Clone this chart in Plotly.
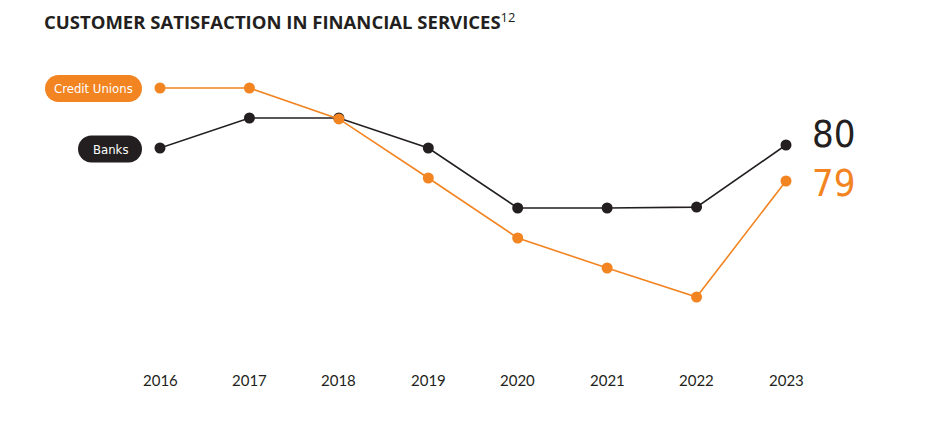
import plotly.graph_objects as go
import numpy as np

years = [2016, 2017, 2018, 2019, 2020, 2021, 2022, 2023]
banks = [79.9, 80.9, 80.9, 79.9, 77.9, 77.9, 77.93, 80.0]
credit_unions = [81.9, 81.9, 80.87, 78.9, 76.9, 75.9, 74.93, 78.8]
end_labels = {"Banks": "80", "Credit Unions": "79"}

ORANGE = "#F28421"
DARK = "#231F20"

OFF = 8  # page offset of the figure in the browser
W, H = 925 - OFF, 434 - OFF
ML = 160 - OFF
MR = W - (786 - OFF)
MT = 70 - OFF
MB = H - (340 - OFF)
PW, PH = W - ML - MR, H - MT - MB


def px2paper(px, py):
    return ((px - OFF) - ML) / PW, (H - MB - (py - OFF)) / PH


def pill(x0, x1, yc, h):
    r = h / 2
    pts = []
    for a in np.linspace(-np.pi / 2, np.pi / 2, 16):
        pts.append((x1 - r + r * np.cos(a), yc + r * np.sin(a)))
    for a in np.linspace(np.pi / 2, 3 * np.pi / 2, 16):
        pts.append((x0 + r + r * np.cos(a), yc + r * np.sin(a)))
    p = [px2paper(*q) for q in pts]
    return "M " + " L ".join(f"{a:.5f},{b:.5f}" for a, b in p) + " Z"


fig = go.Figure()
fig.add_trace(go.Scatter(x=years, y=banks, mode="lines+markers", name="Banks",
                         line=dict(color=DARK, width=1.6),
                         marker=dict(color=DARK, size=11), cliponaxis=False))
fig.add_trace(go.Scatter(x=years, y=credit_unions, mode="lines+markers", name="Credit Unions",
                         line=dict(color=ORANGE, width=1.6),
                         marker=dict(color=ORANGE, size=11), cliponaxis=False))

shapes = [
    dict(type="path", xref="paper", yref="paper", path=pill(45, 142, 88.5, 27),
         fillcolor=ORANGE, line=dict(width=0), layer="below"),
    dict(type="path", xref="paper", yref="paper", path=pill(78, 142, 149, 27),
         fillcolor=DARK, line=dict(width=0), layer="below"),
]

cond = "DejaVu Sans Condensed, Liberation Sans Narrow, Noto Sans, sans-serif"
ann = []
cx, cy = px2paper(93.5, 88.5)
ann.append(dict(x=cx, y=cy, xref="paper", yref="paper", text="Credit Unions", showarrow=False,
                xanchor="center", yanchor="middle",
                font=dict(family=cond, size=13, color="white", weight=500)))
cx, cy = px2paper(110, 149)
ann.append(dict(x=cx, y=cy, xref="paper", yref="paper", text="Banks", showarrow=False,
                xanchor="center", yanchor="middle",
                font=dict(family=cond, size=13, color="white", weight=500)))
ann.append(dict(x=years[-1], y=banks[-1], xref="x", yref="y", text=end_labels["Banks"],
                showarrow=False, xanchor="left", yanchor="middle", xshift=24, yshift=11,
                font=dict(family=cond, size=38, color=DARK, weight=500)))
ann.append(dict(x=years[-1], y=credit_unions[-1], xref="x", yref="y", text=end_labels["Credit Unions"],
                showarrow=False, xanchor="left", yanchor="middle", xshift=24, yshift=-2,
                font=dict(family=cond, size=38, color=ORANGE, weight=500)))
for yr in years:
    ann.append(dict(x=yr, y=0, xref="x", yref="paper", text=str(yr), showarrow=False,
                    xanchor="center", yanchor="middle", yshift=-40,
                    font=dict(family="Lato, sans-serif", size=15, color=DARK)))

fig.update_layout(
    width=W, height=H,
    margin=dict(l=ML, r=MR, t=MT, b=MB),
    paper_bgcolor="white", plot_bgcolor="white",
    showlegend=False,
    title=dict(text="<b>CUSTOMER SATISFACTION IN FINANCIAL SERVICES</b><sup>12</sup>",
               x=(44 - OFF) / W, xanchor="left", y=1 - (23 - OFF) / H, yanchor="middle",
               font=dict(family="Open Sans, sans-serif", size=18.5, color=DARK)),
    xaxis=dict(range=[2016, 2023], visible=False),
    yaxis=dict(range=[73.5, 82.5], visible=False),
    shapes=shapes,
    annotations=ann,
)

fig.write_html("out.html")
